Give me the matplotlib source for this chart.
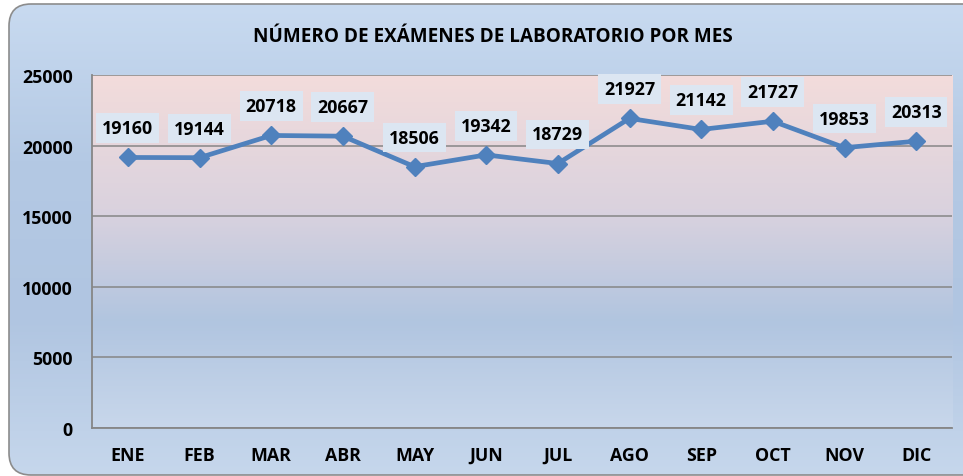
import matplotlib.pyplot as plt
import matplotlib as mpl
import numpy as np
from matplotlib.colors import LinearSegmentedColormap
from matplotlib.patches import FancyBboxPatch

mpl.rcParams['font.family'] = ['Open Sans', 'DejaVu Sans']
mpl.rcParams['font.weight'] = 'bold'

# Datos
meses = ['ENE', 'FEB', 'MAR', 'ABR', 'MAY', 'JUN', 'JUL', 'AGO', 'SEP', 'OCT', 'NOV', 'DIC']
examenes = [19160, 19144, 20718, 20667, 18506, 19342, 18729, 21927, 21142, 21727, 19853, 20313]
titulo = 'NÚMERO DE EXÁMENES DE LABORATORIO POR MES'

fig = plt.figure(figsize=(9.63, 4.77), dpi=100)
fig.patch.set_facecolor('white')

# Fondo del gráfico con degradado y esquinas redondeadas
bg = fig.add_axes([0, 0, 1, 1])
bg.set_xlim(0, 963)
bg.set_ylim(477, 0)
bg.axis('off')
cmap_bg = LinearSegmentedColormap.from_list('bg', ['#c8daf0', '#b4c9e4', '#b0c5e1', '#c6d7ec'])
grad = np.linspace(0, 1, 256).reshape(-1, 1)
im = bg.imshow(grad, cmap=cmap_bg, extent=[9, 990, 476, 5], aspect='auto')
marco = FancyBboxPatch((9, 5), 980, 471, boxstyle='round,pad=0,rounding_size=22',
                       fc='none', ec='#8c8c8c', lw=1.2, transform=bg.transData)
bg.add_patch(marco)
im.set_clip_path(marco)

ax = fig.add_axes([92 / 963, 1 - 429 / 477, 860 / 963, 353 / 477])
cmap_pa = LinearSegmentedColormap.from_list('pa', [(0, '#c8d7eb'), (0.3, '#b1c5e0'),
                                                   (0.62, '#dad2de'), (1, '#f3dcdb')])
ax.imshow(grad[::-1], cmap=cmap_pa, extent=[-0.5, 11.5, 0, 25000], aspect='auto', zorder=0)
ax.set_facecolor('none')

x = np.arange(len(meses))
ax.plot(x, examenes, color='#4f81bd', lw=3.4, marker='D', ms=9.5, zorder=3)

for xi, v in zip(x, examenes):
    ax.annotate(str(v), (xi, v), xytext=(0, 21), textcoords='offset points',
                ha='center', va='center', fontsize=12.8, fontweight='bold', color='black',
                bbox=dict(boxstyle='square,pad=0.33', fc='#dce6f2', ec='none'), zorder=4)

ax.set_xlim(-0.5, 11.5)
ax.set_ylim(0, 25000)
ax.set_yticks(np.arange(0, 25001, 5000))
ax.set_xticks(x)
ax.set_xticklabels(meses)
ax.tick_params(axis='both', length=0, labelsize=12.8)
ax.tick_params(axis='x', pad=13)
ax.tick_params(axis='y', pad=14)
for lbl in ax.get_xticklabels() + ax.get_yticklabels():
    lbl.set_fontweight('bold')
ax.grid(axis='y', color='#868686', lw=1.1, zorder=1)
ax.set_axisbelow(True)
for s in ['top', 'right']:
    ax.spines[s].set_visible(False)
for s in ['left', 'bottom']:
    ax.spines[s].set_color('#868686')
    ax.spines[s].set_linewidth(1.3)

fig.text(493 / 963, 1 - 37 / 477, titulo, ha='center', va='center',
         fontsize=13.6, fontweight='bold')

plt.savefig('out.png', dpi=100)
